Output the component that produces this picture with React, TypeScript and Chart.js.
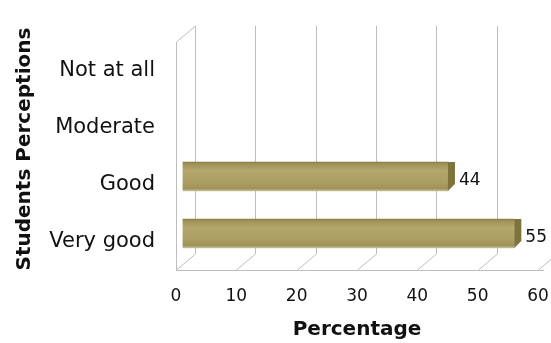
import React, { useEffect, useRef } from "react";
import { Chart, registerables } from "chart.js";

Chart.register(...registerables);

const categories = ["Not at all", "Moderate", "Good", "Very good"];
const values: (number | null)[] = [null, null, 44, 55];
const xTickValues = [0, 10, 20, 30, 40, 50, 60];
const xTitle = "Percentage";
const yTitle = "Students Perceptions";

const DX = 19;
const DY = 16;
const FONT = "'DejaVu Sans', sans-serif";

const threeD = {
  id: "threeD",
  beforeDatasetsDraw(chart: any) {
    const { ctx, chartArea: a, scales } = chart;
    const x = scales.x;
    const line = (x1: number, y1: number, x2: number, y2: number) => {
      ctx.beginPath();
      ctx.moveTo(x1, y1);
      ctx.lineTo(x2, y2);
      ctx.stroke();
    };
    ctx.save();
    ctx.strokeStyle = "#bdbdbd";
    ctx.lineWidth = 1;
    for (const v of xTickValues) {
      const px = Math.round(x.getPixelForValue(v)) + 0.5;
      line(px + DX, a.top - DY, px + DX, a.bottom - DY);
      line(px, a.bottom, px + DX, a.bottom - DY);
    }
    const l = Math.round(a.left) + 0.5;
    const b = Math.round(a.bottom) + 0.5;
    line(l, a.top, l, b);
    line(l, a.top, l + DX, a.top - DY);
    line(l, b, x.getPixelForValue(60) + 6, b);
    ctx.restore();
    ctx.save();
    ctx.translate(DX / 2 - 3, -DY / 2);
  },
  afterDatasetsDraw(chart: any) {
    const { ctx } = chart;
    ctx.restore();
    const meta = chart.getDatasetMeta(0);
    meta.data.forEach((el: any, i: number) => {
      const v = values[i];
      if (v == null) return;
      const p = el.getProps(["x", "y", "height"], true);
      const xEnd = p.x + DX / 2 - 3;
      const top = p.y - p.height / 2 - DY / 2;
      const bot = p.y + p.height / 2 - DY / 2;
      ctx.save();
      ctx.fillStyle = "#7d743c";
      ctx.beginPath();
      ctx.moveTo(xEnd, top);
      ctx.lineTo(xEnd + 7, top);
      ctx.lineTo(xEnd + 7, bot - 7);
      ctx.lineTo(xEnd, bot);
      ctx.closePath();
      ctx.fill();
      ctx.fillStyle = "#111";
      ctx.font = `17px ${FONT}`;
      ctx.textAlign = "left";
      ctx.textBaseline = "middle";
      ctx.fillText(String(v), xEnd + 11, p.y - 4);
      ctx.restore();
    });
  },
};

export default function App() {
  const ref = useRef<HTMLCanvasElement | null>(null);
  useEffect(() => {
    if (!ref.current) return;
    const chart = new Chart(ref.current, {
      type: "bar",
      data: {
        labels: categories,
        datasets: [
          {
            data: values as any,
            barThickness: 29,
            backgroundColor: (c: any) => {
              const chartObj = c.chart;
              const ys = chartObj.scales && chartObj.scales.y;
              if (!ys || c.dataIndex == null) return "#ada268";
              const yc = ys.getPixelForValue(c.dataIndex);
              if (!Number.isFinite(yc)) return "#ada268";
              const g = chartObj.ctx.createLinearGradient(0, yc - 14.5, 0, yc + 14.5);
              g.addColorStop(0, "#8a7f48");
              g.addColorStop(0.08, "#a0945a");
              g.addColorStop(0.3, "#b3a76c");
              g.addColorStop(0.7, "#aa9e62");
              g.addColorStop(0.92, "#9f935a");
              g.addColorStop(1, "#c9c19b");
              return g;
            },
            borderWidth: 0,
          },
        ],
      },
      options: {
        indexAxis: "y",
        animation: false,
        responsive: false,
        layout: { padding: { left: 0, right: 0, top: 42, bottom: 0 } },
        plugins: {
          legend: { display: false },
          tooltip: { enabled: false },
        },
        scales: {
          x: {
            min: 0,
            max: 60,
            afterFit: (s: any) => {
              s.height = 73;
              s.paddingRight = 13;
            },
            afterBuildTicks: (s: any) => {
              s.ticks = xTickValues.map((v) => ({ value: v }));
            },
            grid: { display: false, drawTicks: false },
            border: { display: false },
            ticks: {
              padding: 16,
              color: "#111",
              font: { family: FONT, size: 17 },
            },
            title: {
              display: true,
              text: xTitle,
              color: "#111",
              font: { family: FONT, size: 20, weight: "bold" },
              padding: { top: 0, bottom: 1 },
            },
          },
          y: {
            afterFit: (s: any) => {
              s.width = 176;
            },
            grid: { display: false, drawTicks: false },
            border: { display: false },
            ticks: {
              padding: 21,
              color: "#111",
              font: { family: FONT, size: 21 },
            },
            title: {
              display: true,
              text: "  " + yTitle,
              color: "#111",
              font: { family: FONT, size: 20, weight: "bold" },
              padding: { top: 13, bottom: 0 },
            },
          },
        },
      },
      plugins: [threeD],
    } as any);
    return () => chart.destroy();
  }, []);
  return (
    <div style={{ position: "absolute", left: 0, top: 0, width: 551, height: 343, background: "#fff" }}>
      <canvas ref={ref} width={551} height={343} />
    </div>
  );
}
